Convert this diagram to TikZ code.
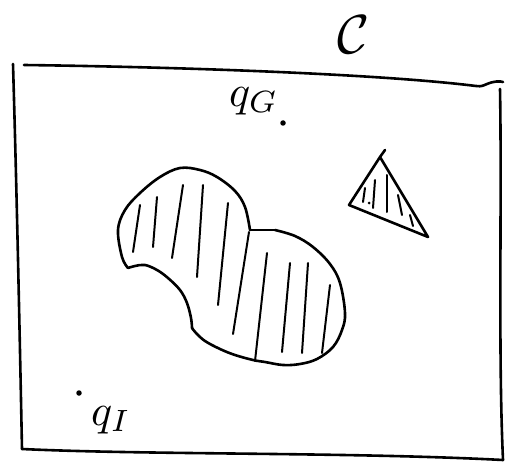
\documentclass[tikz,border=0pt]{standalone}
\begin{document}
\begin{tikzpicture}[x=1pt,y=-1pt,
  pen/.style={line width=2.6pt, line cap=round, line join=round},
  hatch/.style={line width=2pt, line cap=round},
  lbl/.style={inner sep=0pt},
  pt/.style={circle, fill, inner sep=0pt, minimum size=5.5pt}]
\useasboundingbox (0,0) rectangle (518,465);
% frame corners
\coordinate (tl) at (13,64);
\coordinate (tlb) at (24,65);
\coordinate (tr) at (476,86);
\coordinate (h1) at (487,84);
\coordinate (h2) at (503,82);
\coordinate (rt) at (500,89);
\coordinate (rb) at (503,460);
\coordinate (lb) at (22,449);
% frame
\draw[pen] (tlb) .. controls (180,67) and (380,74) .. (tr) .. controls (482,87) and (484,85) .. (h1) .. controls (494,81) and (500,81) .. (h2);
\draw[pen] (rt) .. controls (502,200) and (498,350) .. (rb);
\draw[pen] (lb) .. controls (150,455) and (350,452) .. (rb);
\draw[pen] (tl) .. controls (17,200) and (20,350) .. (lb);
% labels
\node[lbl] (C) at (354,35) {\scalebox{5.5}{$\mathcal{C}$}};
\node[lbl, anchor=west] (qG) at (229,101) {\scalebox{4.4}{$q_G$}};
\node[pt] (pG) at (283,123) {};
\node[lbl, anchor=west] (qI) at (91,420) {\scalebox{4.4}{$q_I$}};
\node[pt] (pI) at (79,393) {};
% obstacle 1 (blob)
\draw[pen] plot[smooth, tension=0.6] coordinates {(128,268) (122,257) (118,230) (125,210) (140,193) (160,177) (180,168) (200,170) (217,177) (235,191) (245,207) (250,230)};
\draw[pen] (250,230) -- (275,230);
\draw[pen] plot[smooth, tension=0.6] coordinates {(275,230) (295,236) (313,247) (330,264) (340,283) (345,313) (342,330) (333,347) (317,359) (300,364) (283,365) (265,362) (253,360) (235,355) (220,349) (205,341) (196,333) (192,328)};
\draw[pen] plot[smooth, tension=0.6] coordinates {(192,328) (191,318) (187,303) (180,290) (168,278) (157,270) (145,265) (135,266) (128,268)};
% hatching of blob
\draw[hatch] (140,205) -- (133,252);
\draw[hatch] (157,197) -- (153,247);
\draw[hatch] (183,185) -- (172,258);
\draw[hatch] (203,185) -- (197,277);
\draw[hatch] (228,203) -- (218,305);
\draw[hatch] (249,232) -- (233,334);
\draw[hatch] (267,253) -- (255,361);
\draw[hatch] (290,263) -- (282,352);
\draw[hatch] (308,263) -- (302,353);
\draw[hatch] (330,285) -- (322,353);
% obstacle 2 (triangle)
\coordinate (ta) at (380,157);
\coordinate (tb) at (349,205);
\coordinate (tc) at (428,237);
\draw[pen] (385,150) -- (ta) -- (tb) -- (tc) -- (ta);
\draw[hatch] (365,188) -- (363,202);
\fill (369,203) circle (1.5pt);
\draw[hatch] (375,180) -- (373,208);
\draw[hatch] (387,175) -- (387,212);
\draw[hatch] (398,195) -- (402,215);
\draw[hatch] (410,215) -- (413,226);
\end{tikzpicture}
\end{document}
